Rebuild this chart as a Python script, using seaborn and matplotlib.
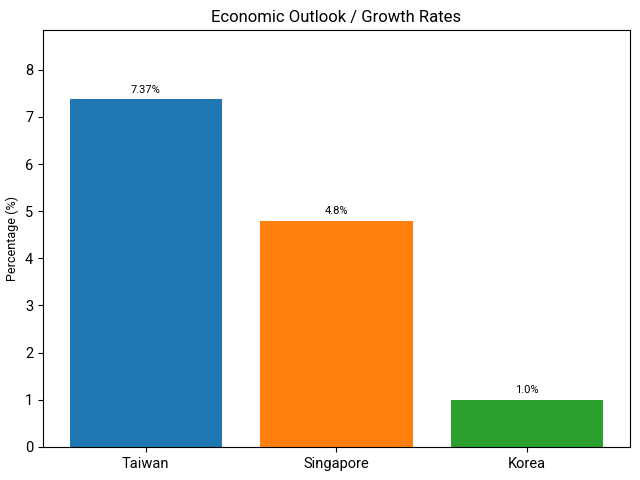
import matplotlib
matplotlib.use("Agg")
import matplotlib.pyplot as plt
import seaborn as sns

countries = ["Taiwan", "Singapore", "Korea"]
growth = [7.37, 4.8, 1.0]
labels = ["7.37%", "4.8%", "1.0%"]
colors = ["#1f77b4", "#ff7f0e", "#2ca02c"]

plt.rcParams["font.family"] = ["Roboto", "DejaVu Sans"]

fig, ax = plt.subplots(figsize=(6.4, 4.8), dpi=100)
sns.barplot(x=countries, y=growth, hue=countries, palette=colors,
            width=0.8, saturation=1, legend=False, ax=ax)

for i, (v, lab) in enumerate(zip(growth, labels)):
    ax.text(i, v + 0.1, lab, ha="center", va="bottom", fontsize=8)

ax.set_xlim(-0.54, 2.54)
ax.set_ylim(0, max(growth) * 1.2)
ax.tick_params(labelsize=10.5)
ax.set_ylabel("Percentage (%)", fontsize=9)
ax.set_title("Economic Outlook / Growth Rates", fontsize=12)

fig.subplots_adjust(left=0.067, right=0.984, top=0.9375, bottom=0.069)
fig.savefig("out.png", dpi=100)
plt.close(fig)
